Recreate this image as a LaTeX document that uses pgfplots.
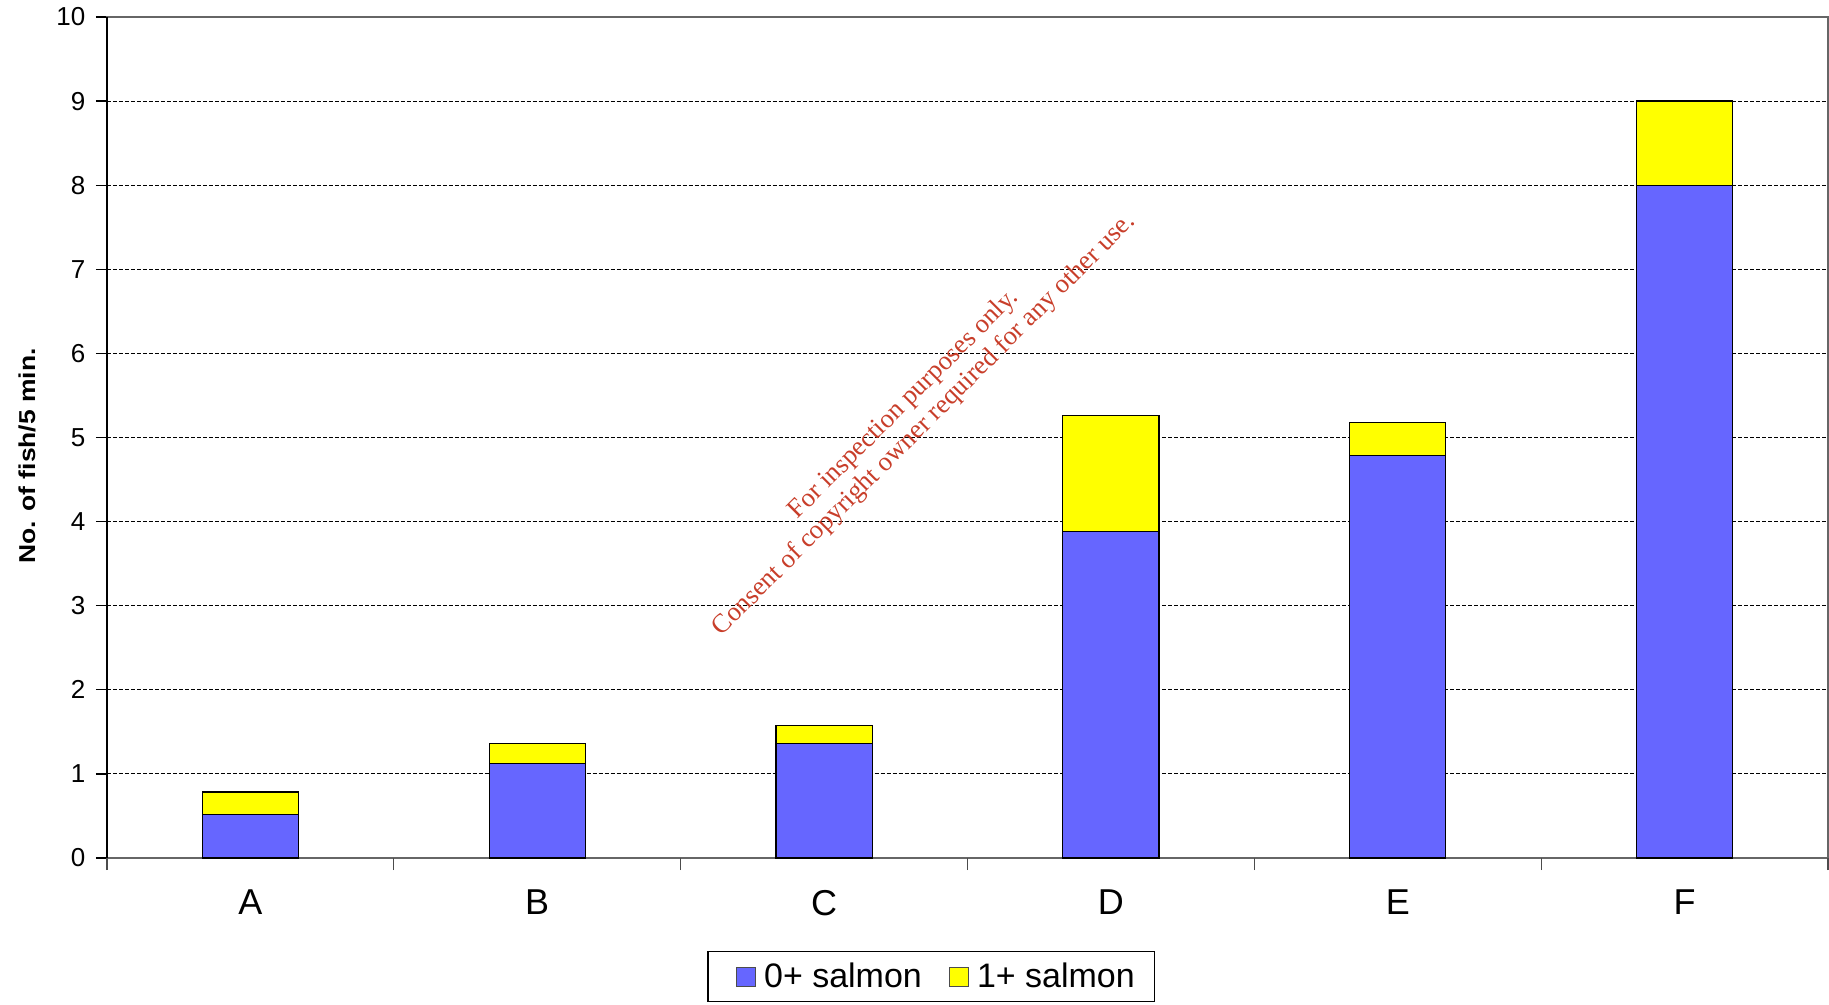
\documentclass[border=0pt]{standalone}
\usepackage{fontspec}
\setmainfont{Liberation Sans}
\newfontfamily\wmfont{Liberation Serif}
\usepackage{graphicx}
\usepackage{pgfplots}
\pgfplotsset{compat=1.18}
\definecolor{salblue}{RGB}{102,102,255}
\definecolor{salyellow}{RGB}{255,255,0}
\definecolor{wmred}{RGB}{200,62,42}
\begin{document}
\begin{tikzpicture}
\begin{axis}[
  scale only axis, width=861pt, height=420.75pt,
  ybar stacked, bar width=0.335,
  xmin=-0.5, xmax=5.5, ymin=0, ymax=10,
  xtick={0,...,5}, xticklabels={A,B,C,D,E,F},
  ytick={0,...,10},
  tick pos=left, tick align=outside, major tick length=5.5pt,
  xtick style={draw=none},
  extra x ticks={-0.5,0.5,1.5,2.5,3.5,4.5,5.5},
  extra x tick labels={},
  extra x tick style={xtick style={draw=black!70, line width=0.6pt}, major tick length=6pt},
  ytick style={draw=black, line width=0.6pt},
  ymajorgrids, major grid style={black, line width=0.5pt, dash pattern=on 2pt off 1pt},
  axis line style={draw=black!60, line width=0.8pt},
  y tick label style={font=\fontsize{13}{15}\selectfont, xshift=-1.75pt},
  x tick label style={font=\fontsize{18}{20}\selectfont, yshift=-7pt},
  /pgf/number format/assume math mode=true,
  ylabel={\scalebox{1.15}[1]{\fontsize{11.5}{13}\selectfont\bfseries No. of fish/5 min.}},
  ylabel style={at={(rel axis cs:-0.0465,0.478)}, anchor=center},
  legend columns=2,
  legend style={at={(rel axis cs:0.479,-0.141)}, anchor=center, draw=black, line width=0.6pt,
    font=\fontsize{17}{20}\selectfont, inner xsep=8pt, inner ysep=3.5pt,
    /tikz/every even column/.append style={column sep=5.5pt}},
  legend image code/.code={\draw[#1, draw=black!70] (6pt,-4.75pt) rectangle (15.5pt,4.75pt); \path (0pt,0pt) (17.5pt,0pt);},
  clip=false,
]
\addplot[fill=salblue, draw=black, line width=0.6pt] coordinates {(0,0.515) (1,1.12) (2,1.36) (3,3.88) (4,4.79) (5,8.0)};
\addplot[fill=salyellow, draw=black, line width=0.6pt] coordinates {(0,0.27) (1,0.24) (2,0.22) (3,1.38) (4,0.39) (5,1.0)};
\legend{0+ salmon, 1+ salmon}
\draw[black, line width=0.8pt] (rel axis cs:0,0) -- (rel axis cs:0,1);
\node[rotate=45, text=wmred, font=\wmfont\fontsize{13.3}{14.5}\selectfont, align=center] at (rel axis cs:0.469,0.527) {For inspection purposes only.\\Consent of copyright owner required for any other use.};
\coordinate (ll) at (rel axis cs:0,0);
\coordinate (ur) at (rel axis cs:1,1);
\end{axis}
\pgfresetboundingbox
\path ([xshift=-53.5pt,yshift=-73.25pt]ll) rectangle ([xshift=0.5pt,yshift=8.5pt]ur);
\end{tikzpicture}
\end{document}
